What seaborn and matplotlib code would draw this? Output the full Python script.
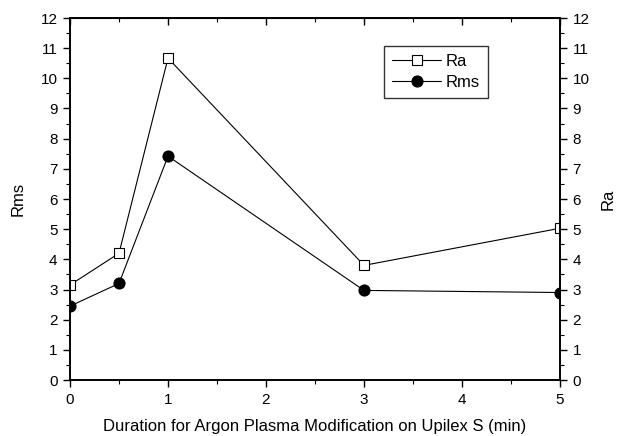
import matplotlib
matplotlib.use("Agg")
import matplotlib.pyplot as plt
import seaborn as sns
import pandas as pd
from matplotlib.ticker import MultipleLocator

duration = [0, 0.5, 1, 3, 5]
ra = [3.15, 4.2, 10.67, 3.8, 5.03]
rms = [2.45, 3.2, 7.42, 2.97, 2.9]

sns.set_style("ticks")
plt.rcParams['font.family'] = ['Liberation Sans', 'DejaVu Sans']
plt.rcParams.update({"text.color": "black", "axes.labelcolor": "black",
                     "xtick.color": "black", "ytick.color": "black",
                     "axes.edgecolor": "black"})

df = pd.DataFrame({"Duration": duration, "Ra": ra, "Rms": rms})

fig = plt.figure(figsize=(6.18, 4.36), dpi=100)
ax = fig.add_axes([70 / 618, 1 - 380 / 436, 490 / 618, 362 / 436])

sns.lineplot(data=df, x="Duration", y="Ra", ax=ax, color="black", lw=0.8,
             marker="s", markersize=7, markerfacecolor="white",
             markeredgecolor="black", markeredgewidth=0.8, label="Ra")
sns.lineplot(data=df, x="Duration", y="Rms", ax=ax, color="black", lw=0.8,
             marker="o", markersize=8, markerfacecolor="black",
             markeredgecolor="black", label="Rms")

ax.set_xlim(0, 5)
ax.set_ylim(0, 12)
ax.xaxis.set_major_locator(MultipleLocator(1))
ax.xaxis.set_minor_locator(MultipleLocator(0.5))
ax.yaxis.set_major_locator(MultipleLocator(1))
ax.yaxis.set_minor_locator(MultipleLocator(0.5))
ax.tick_params(which="both", direction="out", labelsize=11, pad=4)
ax.tick_params(which="major", length=5, width=1)
ax.tick_params(which="minor", length=3, width=0.8)
for s in ax.spines.values():
    s.set_linewidth(1.2)
ax.set_xlabel("Duration for Argon Plasma Modification on Upilex S (min)", fontsize=12, labelpad=9)
ax.set_ylabel("Rms", fontsize=12, labelpad=11)

# top ticks pointing inward
axt = ax.secondary_xaxis("top")
axt.xaxis.set_major_locator(MultipleLocator(1))
axt.xaxis.set_minor_locator(MultipleLocator(0.5))
axt.tick_params(which="both", direction="in", labeltop=False)
axt.tick_params(which="major", length=5, width=1)
axt.tick_params(which="minor", length=3, width=0.8)

ax2 = ax.twinx()
ax2.set_ylim(0, 12)
ax2.yaxis.set_major_locator(MultipleLocator(1))
ax2.yaxis.set_minor_locator(MultipleLocator(0.5))
ax2.tick_params(which="both", direction="out", labelsize=11, pad=4)
ax2.tick_params(which="major", length=5, width=1)
ax2.tick_params(which="minor", length=3, width=0.8)
ax2.set_ylabel("Ra", fontsize=12, labelpad=8)
for s in ax2.spines.values():
    s.set_linewidth(1.2)

leg = ax.legend(loc="upper left", bbox_to_anchor=(0.641, 0.923), fontsize=12,
                frameon=True, fancybox=False, edgecolor="black",
                handlelength=2.9, handletextpad=0.3, borderpad=0.5,
                labelspacing=0.35, borderaxespad=0)
leg.get_frame().set_linewidth(1.0)

fig.savefig("out.png", dpi=100)
